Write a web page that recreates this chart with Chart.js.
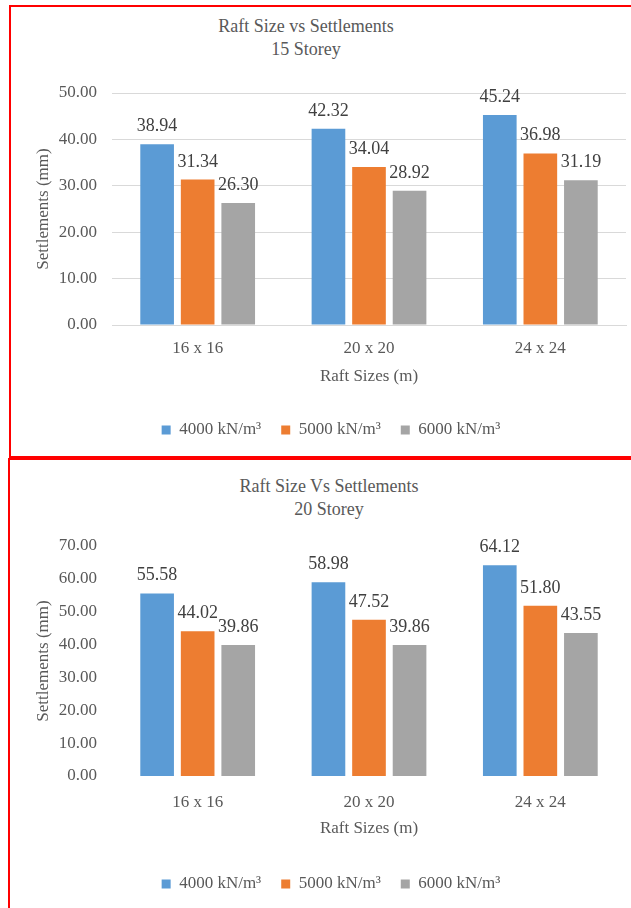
<!DOCTYPE html>
<html>
<head>
<meta charset="utf-8">
<script src="https://cdn.jsdelivr.net/npm/chart.js@4.4.1/dist/chart.umd.min.js"></script>
<style>
  html, body { margin: 0; padding: 0; width: 631px; height: 908px; overflow: hidden; background: #fff; }
  .frame { position: absolute; border: 2px solid #ff0000; border-right: none; }
  #frame15 { left: 9px; top: 5px; width: 700px; height: 449px; }
  #frame20 { left: 8px; top: 458px; width: 700px; height: 500px; border-bottom: none; }
  .title { position: absolute; left: 0; text-align: center; color: #595959;
           font-family: "Liberation Serif", "Times New Roman", serif; font-size: 18px; line-height: 23px; }
  canvas { position: absolute; left: 0; }
</style>
</head>
<body>
<div class="frame" id="frame15"></div>
<div class="frame" id="frame20"></div>

<div class="title" style="top: 15px; width: 612px;">Raft Size vs Settlements<br>15 Storey</div>
<div class="title" style="top: 475px; width: 658px;">Raft Size Vs Settlements<br>20 Storey</div>

<canvas id="chart15" width="662" height="458" style="top: 0px;"></canvas>
<canvas id="chart20" width="662" height="449" style="top: 459px;"></canvas>

<script>
const raftSizes = ["16 x 16", "20 x 20", "24 x 24"];
const subgrades = ["4000 kN/m³", "5000 kN/m³", "6000 kN/m³"];
const barColors = ["#5B9BD5", "#ED7D31", "#A5A5A5"];

// 15 storey settlements (mm)
const storey15_k4000 = [38.94, 42.32, 45.24];
const storey15_k5000 = [31.34, 34.04, 36.98];
const storey15_k6000 = [26.30, 28.92, 31.19];

// 20 storey settlements (mm)
const storey20_k4000 = [55.58, 58.98, 64.12];
const storey20_k5000 = [44.02, 47.52, 51.80];
const storey20_k6000 = [39.86, 39.86, 43.55];

const yMax15 = 50;
const yMax20 = 70;
const yStep = 10;

const serif = '"Liberation Serif", "Times New Roman", serif';
Chart.defaults.font.family = serif;
Chart.defaults.color = "#595959";

// values printed above each bar
const valueLabels = {
  id: "valueLabels",
  afterDatasetsDraw(chart) {
    const ctx = chart.ctx;
    ctx.save();
    ctx.font = "18px " + serif;
    ctx.fillStyle = "#404040";
    ctx.textAlign = "center";
    ctx.textBaseline = "alphabetic";
    chart.data.datasets.forEach((ds, i) => {
      chart.getDatasetMeta(i).data.forEach((bar, j) => {
        ctx.fillText(ds.data[j].toFixed(2), bar.x, bar.y - 13);
      });
    });
    ctx.restore();
  },
};

function buildChart(id, series, yMax, lay) {
  const ctx = document.getElementById(id).getContext("2d");
  return new Chart(ctx, {
    type: "bar",
    data: {
      labels: raftSizes,
      datasets: series.map((values, i) => ({
        label: subgrades[i],
        data: values,
        backgroundColor: barColors[i],
        categoryPercentage: 0.71,
        barPercentage: 0.83,
      })),
    },
    options: {
      responsive: false,
      animation: false,
      layout: { padding: { top: lay.top, left: 0, right: 0, bottom: lay.bottom } },
      plugins: {
        tooltip: { enabled: false },
        legend: {
          position: "bottom",
          labels: { boxWidth: 9, boxHeight: 9, padding: 20, color: "#595959", font: { size: 17 } },
        },
      },
      scales: {
        x: {
          grid: { display: false, drawTicks: false },
          border: { display: lay.grid, color: "#d9d9d9" },
          ticks: { padding: lay.tickPad, font: { size: 17 }, color: "#595959" },
          title: { display: true, text: "Raft Sizes (m)", font: { size: 17 }, padding: { top: 0, bottom: lay.titlePad } },
          afterFit: (s) => { s.height = lay.xHeight; },
        },
        y: {
          min: 0,
          max: yMax,
          grid: { display: lay.grid, color: "#d9d9d9", drawTicks: false },
          border: { display: false },
          ticks: { stepSize: yStep, padding: 15, font: { size: 17 }, color: "#595959",
                   callback: (v) => v.toFixed(2) },
          title: { display: true, text: "Settlements (mm)", font: { size: 17 }, padding: { top: 33, bottom: 0 } },
          afterFit: (s) => { s.width = 112; },
        },
        // empty right-hand axis, keeps the plot clear of the right margin
        spacer: {
          type: "linear",
          position: "right",
          grid: { display: false, drawTicks: false },
          border: { display: false },
          ticks: { display: false },
          afterFit: (s) => { s.width = 36; },
        },
      },
    },
    plugins: [valueLabels],
  });
}

buildChart("chart15", [storey15_k4000, storey15_k5000, storey15_k6000], yMax15,
  { top: 93, bottom: 9.5, xHeight: 76.5, tickPad: 13, titlePad: 14.3, grid: true });

buildChart("chart20", [storey20_k4000, storey20_k5000, storey20_k6000], yMax20,
  { top: 87, bottom: 5.5, xHeight: 79.5, tickPad: 16, titlePad: 16.3, grid: false });
</script>
</body>
</html>
